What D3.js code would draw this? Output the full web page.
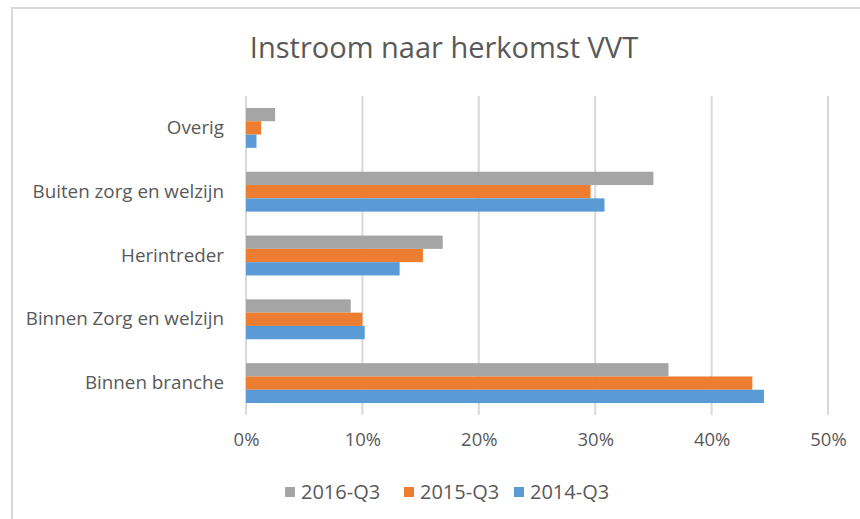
<!DOCTYPE html>
<html>
<head>
<meta charset="utf-8">
<script src="https://cdn.jsdelivr.net/npm/d3@7"></script>
<style>
  body { margin: 0; background: #fff; }
  text { font-family: "Open Sans", "Noto Sans", sans-serif; fill: #595959; }
</style>
</head>
<body>
<svg id="chart" width="860" height="519"></svg>
<script>
// categories top to bottom
var categories = ["Overig", "Buiten zorg en welzijn", "Herintreder", "Binnen Zorg en welzijn", "Binnen branche"];
var series = ["2016-Q3", "2015-Q3", "2014-Q3"];
var colors = ["#a5a5a5", "#ed7d31", "#5b9bd5"];

var v2016 = [0.025, 0.350, 0.169, 0.090, 0.363];
var v2015 = [0.013, 0.296, 0.152, 0.100, 0.435];
var v2014 = [0.009, 0.308, 0.132, 0.102, 0.445];
var xTicks = [0, 0.1, 0.2, 0.3, 0.4, 0.5];

var values = [v2016, v2015, v2014];

var svg = d3.select("#chart");
var margin = {top: 96, right: 32, bottom: 104, left: 246},
    width = 860 - margin.left - margin.right,
    height = 519 - margin.top - margin.bottom;

// chart border (only top/left visible, rest cropped)
svg.append("rect")
    .attr("x", 12).attr("y", 8)
    .attr("width", 900).attr("height", 600)
    .attr("fill", "none")
    .attr("stroke", "#d9d9d9")
    .attr("stroke-width", 2);

svg.append("text")
    .attr("x", 444).attr("y", 58)
    .attr("text-anchor", "middle")
    .style("font-size", "29px")
    .text("Instroom naar herkomst VVT");

var g = svg.append("g").attr("transform", "translate(" + margin.left + "," + margin.top + ")");

var x = d3.scaleLinear().domain([0, 0.5]).range([0, width]);
var y = d3.scaleBand().domain(categories).range([0, height]).paddingInner(0.375).paddingOuter(0.1875);
var ys = d3.scaleBand().domain(series).range([0, y.bandwidth()]);

// gridlines
g.selectAll(".grid")
    .data(xTicks)
    .enter().append("line")
    .attr("x1", function(d) { return x(d); })
    .attr("x2", function(d) { return x(d); })
    .attr("y1", 0).attr("y2", height)
    .attr("stroke", "#d9d9d9")
    .attr("stroke-width", 2);

// bars
series.forEach(function(s, i) {
    g.selectAll(".bar" + i)
        .data(values[i])
        .enter().append("rect")
        .attr("x", x(0))
        .attr("y", function(d, j) { return y(categories[j]) + ys(s); })
        .attr("width", function(d) { return x(d) - x(0); })
        .attr("height", ys.bandwidth())
        .attr("fill", colors[i]);
});

// x axis labels
var xAxis = g.append("g")
    .attr("transform", "translate(0," + height + ")")
    .call(d3.axisBottom(x).tickValues(xTicks).tickFormat(d3.format(".0%")).tickSize(0).tickPadding(18));
xAxis.select(".domain").remove();
xAxis.selectAll("text")
    .style("font-size", "18.5px")
    .style("font-family", "\"Open Sans\", sans-serif")
    .attr("fill", "#595959");

// y axis labels
var yAxis = g.append("g")
    .call(d3.axisLeft(y).tickSize(0).tickPadding(22));
yAxis.select(".domain").remove();
yAxis.selectAll("text")
    .style("font-size", "18.8px")
    .style("font-family", "\"Open Sans\", sans-serif")
    .attr("fill", "#595959");

// legend
var legendX = [285, 404, 514];
var legend = svg.selectAll(".legend")
    .data(series)
    .enter().append("g")
    .attr("transform", function(d, i) { return "translate(" + legendX[i] + ",487)"; });
legend.append("rect")
    .attr("width", 10).attr("height", 10)
    .attr("fill", function(d, i) { return colors[i]; });
legend.append("text")
    .attr("x", 16).attr("y", 5).attr("dy", "0.35em")
    .style("font-size", "20px")
    .text(function(d) { return d; });
</script>
</body>
</html>
